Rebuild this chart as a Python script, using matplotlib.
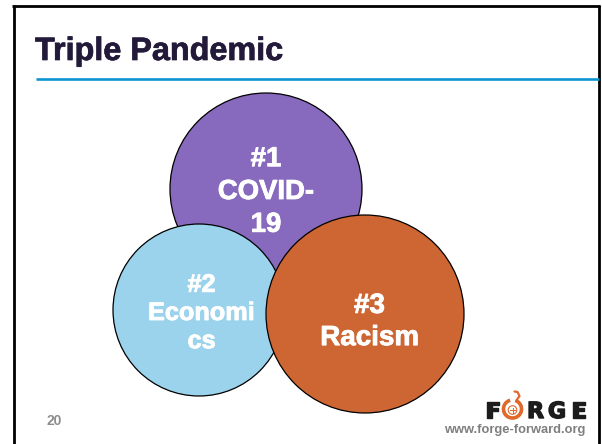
import numpy as np
import matplotlib
matplotlib.use("Agg")
import matplotlib.pyplot as plt
import matplotlib.patheffects as pe
from matplotlib.patches import Circle, Arc

plt.rcParams['font.family'] = ['Liberation Sans', 'DejaVu Sans']

# ---- slide content ----
title = "Triple Pandemic"
page_number = "20"
site_url = "www.forge-forward.org"
logo_letters = ["F", "R", "G", "E"]

circle_labels = ["#1\nCOVID-\n19", "#2\nEconomi\ncs", "#3\nRacism"]
circle_x = [266, 199, 365]
circle_y = [189, 310, 314]
circle_r = [96, 86, 99]
circle_colors = ["#8769bd", "#9bd3ec", "#cd6633"]

# text placement inside each circle
label_x = [266, 201.5, 369.5]
label_y = [192, 313, 322]
label_sizes = [19.8, 18.2, 20.0]
label_spacing = [1.34, 1.22, 1.31]

W, H = 602, 444
fig = plt.figure(figsize=(W / 100, H / 100), dpi=100)
ax = fig.add_axes([0, 0, 1, 1])
ax.set_xlim(0, W)
ax.set_ylim(H, 0)
ax.set_aspect('equal')
ax.axis('off')

# slide frame
frame = dict(color='black', lw=2.0, solid_capstyle='butt')
ax.plot([12, 600], [6, 6], **frame)
ax.plot([13.5, 13.5], [5, H], **frame)
ax.plot([599, 599], [5, H], **frame)

# title + rule
ax.text(35, 60, title, fontsize=23.3, fontweight='bold', color='#231a3a',
        ha='left', va='baseline',
        path_effects=[pe.withStroke(linewidth=0.5, foreground='#231a3a')])
ax.plot([36, 599], [79, 79], color='#0e93d1', lw=1.9, solid_capstyle='butt')

# the three circles (later ones on top)
for i in range(len(circle_labels)):
    ax.add_patch(Circle((circle_x[i], circle_y[i]), circle_r[i],
                        facecolor=circle_colors[i], edgecolor='black',
                        lw=0.9, zorder=2 + i))
    ax.text(label_x[i], label_y[i], circle_labels[i], color='white',
            fontsize=label_sizes[i], fontweight='bold', ha='center',
            va='center', linespacing=label_spacing[i], zorder=10,
            path_effects=[pe.withStroke(linewidth=0.6, foreground='white')])

# footer: page number
ax.text(54, 421, page_number, fontsize=10, fontweight='bold', color='#8c8c8c',
        ha='center', va='center')

# footer: FORGE logo (wide letters, orange swirl for the O)
logo_font = dict(fontsize=16, fontweight='bold', color='#1c1c1c',
                 family='DejaVu Sans', va='baseline', ha='center', zorder=5,
                 path_effects=[pe.withStroke(linewidth=1.0,
                                             foreground='#1c1c1c')])
for ch, cx in zip(logo_letters, [493, 535.5, 557, 579]):
    ax.text(cx, 418, ch, **logo_font)

orange = '#e0682a'
ax.add_patch(Arc((512.5, 409), 18, 18, theta1=-70, theta2=255,
                 color=orange, lw=2.6, zorder=5))
ax.plot([516, 519.5, 517.5, 514.5], [401, 396, 392, 391.5],
        color=orange, lw=1.6, solid_capstyle='round', zorder=5)
ax.add_patch(Circle((512.5, 410), 4.3, fill=False, edgecolor=orange,
                    lw=0.8, zorder=5))
ax.plot([510, 515], [410, 410], color=orange, lw=0.7, zorder=5)
ax.plot([512.5, 512.5], [407.5, 412.5], color=orange, lw=0.7, zorder=5)

ax.text(585, 433, site_url, fontsize=9.3, fontweight='bold', color='#7f7f7f',
        ha='right', va='baseline')

fig.savefig("out.png", dpi=100)
